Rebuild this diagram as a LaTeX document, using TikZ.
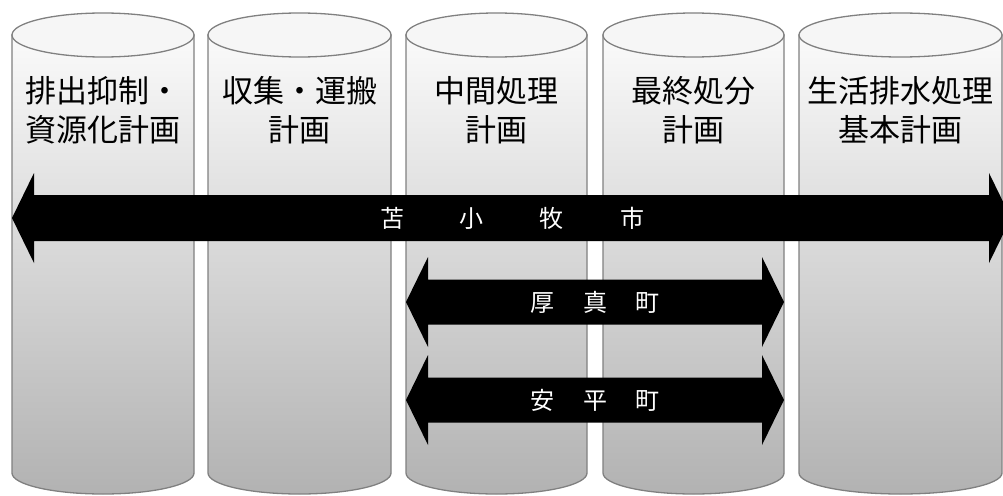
\documentclass[tikz,border=0pt]{standalone}
\usepackage{fontspec}
\newfontfamily\jpfont{Noto Sans CJK JP}
\definecolor{cylline}{RGB}{128,128,128}
\definecolor{cyltop}{RGB}{250,250,250}
\definecolor{cylbot}{RGB}{178,178,178}
\definecolor{cyllid}{RGB}{246,246,246}
\newcommand\dblarrow[6]{% xl xr yc headlen shafthalf headhalf
  \fill[arrowfill] (#1,#3) -- (#1+#4,#3-#6) -- (#1+#4,#3-#5) -- (#2-#4,#3-#5) -- (#2-#4,#3-#6)
    -- (#2,#3) -- (#2-#4,#3+#6) -- (#2-#4,#3+#5) -- (#1+#4,#3+#5) -- (#1+#4,#3+#6) -- cycle;}
\begin{document}
\begin{tikzpicture}[x=1pt,y=-1pt,
  cylbody/.style={draw=cylline, line width=1.3pt, top color=cyltop, bottom color=cylbot},
  cyllidst/.style={draw=cylline, line width=1.3pt, fill=cyllid},
  arrowfill/.style={fill=black},
  title/.style={font=\jpfont\fontsize{31}{39}\selectfont, align=center, text=black, inner sep=0pt},
  lbl/.style={font=\jpfont\fontsize{24}{28}\selectfont, text=white, inner sep=0pt}]
\useasboundingbox (0,0) rectangle (1003,495);
\clip (0,0) rectangle (1003,495);
% cylinders
\foreach \xl/\xr in {12/194, 208/391, 406/587, 603/784, 799/1002}{
  \pgfmathsetmacro\rx{(\xr-\xl)/2}
  \pgfmathsetmacro\cx{(\xr+\xl)/2}
  \path[cylbody] (\xl,35) -- (\xl,473)
     .. controls (\xl,473+11.6) and (\cx-\rx*0.5523,494) .. (\cx,494)
     .. controls (\cx+\rx*0.5523,494) and (\xr,473+11.6) .. (\xr,473)
     -- (\xr,35) -- cycle;
  \draw[cyllidst] (\cx,35) ellipse[x radius=\rx, y radius=22];
}
% titles
\node[title] (t1) at (103,110) {排出抑制・\\資源化計画};
\node[title] (t2) at (299.5,110) {収集・運搬\\計画};
\node[title] (t3) at (496.5,110) {中間処理\\計画};
\node[title] (t4) at (693.5,110) {最終処分\\計画};
\node[title] (t5) at (900.5,110) {生活排水処理\\基本計画};
% arrows
\dblarrow{12}{1011}{218}{22}{23}{45}
\dblarrow{406}{784}{302}{22}{22.5}{45}
\dblarrow{406}{784}{400}{22}{22.5}{45}
\node[lbl] (tomakomai) at (512,218) {苫\hspace{56pt}小\hspace{56pt}牧\hspace{56pt}市};
\node[lbl] (atsuma) at (595,302) {厚\hspace{29pt}真\hspace{29pt}町};
\node[lbl] (abira) at (595,400) {安\hspace{29pt}平\hspace{29pt}町};
\end{tikzpicture}
\end{document}
